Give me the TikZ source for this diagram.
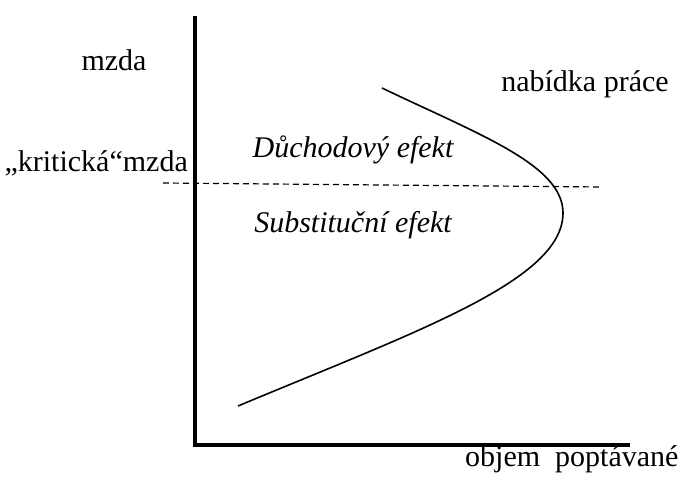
\documentclass[tikz,border=0pt]{standalone}
\usepackage{fontspec}
\setmainfont{Liberation Serif}
\usetikzlibrary{calc}

\begin{document}
\begin{tikzpicture}[x=1pt,y=-1pt,
  every node/.style={font=\fontsize{30}{34}\selectfont,inner sep=0pt},
  axis/.style={line width=4pt},
  curve/.style={line width=1.6pt},
  wageline/.style={line width=1.2pt,dash pattern=on 6pt off 4pt}]
  \useasboundingbox (0,0) rectangle (689,497);
  \coordinate (Top) at (195,16);
  \coordinate (O) at (195,445);
  \coordinate (Right) at (630,445);
  \coordinate (Ws) at (163,183);
  \coordinate (We) at (602,187);
  \coordinate (Sa) at (382,88);
  \coordinate (Sb) at (563,213);
  \coordinate (Sc) at (238,406);
  \draw[axis] (Top) -- (O) -- (Right);
  \draw[wageline] (Ws) -- (We);
  \draw[curve] (Sa) .. controls (480,135) and (563,165) .. (Sb)
    .. controls (563,280) and (420,330) .. (Sc);
  \node[anchor=base] (mzda) at (114,71) {mzda};
  \node[anchor=base east] (krit) at (188,172) {„kritická“mzda};
  \node[anchor=base] (nab) at (585,92) {nabídka práce};
  \node[anchor=base] (duch) at (353,158) {\itshape Důchodový efekt};
  \node[anchor=base] (subst) at (353,233) {\itshape Substituční efekt};
  \node[anchor=base west] (objem) at (465,467) {objem\ \ poptávané};
\end{tikzpicture}
\end{document}
